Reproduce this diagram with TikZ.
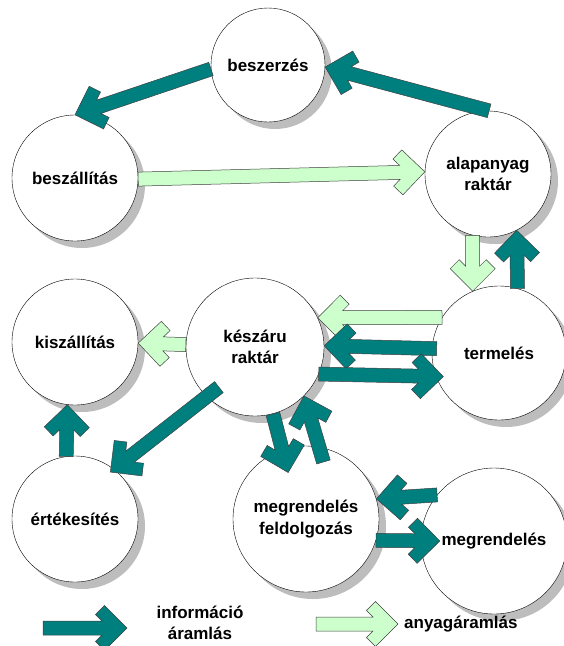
\documentclass[tikz,border=0pt]{standalone}
\usepackage{fontspec}
\setmainfont{Liberation Sans}
\usetikzlibrary{calc}
\definecolor{infoteal}{HTML}{007F7F}
\definecolor{goodsgreen}{HTML}{CCFFCC}
\definecolor{shadowgray}{HTML}{BDBDBD}
\tikzset{
    station/.style={draw, circle, fill=white, inner sep=0pt, align=center,
      font=\fontsize{17}{21.5}\selectfont\bfseries},
    infoarrow/.style={draw=black!75, fill=infoteal, line width=.5pt},
    goodsarrow/.style={draw=black!75, fill=goodsgreen, line width=.5pt},
    legend/.style={font=\fontsize{17}{21.5}\selectfont\bfseries, align=center, inner sep=0pt}}
% circle with its shadow: name, centre, diameter, text
\newcommand\station[4]{%
  \fill[shadowgray] (#2) ++(7pt,-7pt) circle (#3 pt/2);
  \node[station, minimum size=#3] (#1) at (#2) {#4};}
% thick arrow with an open chevron head, from #2 to #3
\newcommand\flowarrow[3][infoarrow]{%
  \path let \p1=(#2), \p2=(#3) in \pgfextra{%
    \pgfmathsetmacro\flang{atan2(\y2-\y1,\x2-\x1)}%
    \pgfmathsetmacro\fllen{veclen(\x2-\x1,\y2-\y1)}%
    \xdef\flang{\flang}\xdef\fllen{\fllen}};
  \draw[#1, shift={(#2)}, rotate=\flang]
    (0,7) -- (\fllen-25,7) -- (\fllen-31.5,13.5) -- (\fllen-22.5,22.5)
    -- (\fllen,0) -- (\fllen-22.5,-22.5) -- (\fllen-31.5,-13.5)
    -- (\fllen-25,-7) -- (0,-7) -- cycle;}

\begin{document}
\begin{tikzpicture}[x=1pt, y=-1pt]
\useasboundingbox (0,0) rectangle (564,646);

\station{besz}{268,65}{114}{beszerzés}
\station{beszall}{75,178}{126}{beszállítás}
\station{alap}{488,174}{126}{alapanyag\\raktár}
\station{kiszall}{75,342}{126}{kiszállítás}
\station{keszaru}{255,347}{138}{készáru\\raktár}
\station{termeles}{499,353}{134}{termelés}
\station{ertek}{75,519}{126}{értékesítés}
\station{feldolg}{306,519}{146}{megrendelés\\feldolgozás}
\station{megrend}{494,541}{146}{megrendelés}

\flowarrow{besz.184}{beszall.90}
\flowarrow{alap.89}{besz.358}
\flowarrow[goodsarrow]{beszall.359}{alap.178}
\flowarrow[goodsarrow]{alap.256}{termeles.113}
\flowarrow{termeles.74}{alap.297}
\flowarrow[goodsarrow]{termeles.148}{keszaru.25}
\flowarrow{$(termeles)!.93!(termeles.176)$}{keszaru.1}
\flowarrow{keszaru.337}{$(termeles)!.9!(termeles.203)$}
\flowarrow[goodsarrow]{keszaru.178}{kiszall.359}
\flowarrow{$(keszaru)!.78!(keszaru.228)$}{$(ertek)!.93!(ertek.53)$}
\flowarrow{ertek.98}{kiszall.263}
\flowarrow{keszaru.285}{$(feldolg)!.68!(feldolg.111)$}
\flowarrow{$(feldolg)!.815!(feldolg.73)$}{keszaru.315}
\flowarrow{megrend.141}{feldolg.16}
\flowarrow{feldolg.343}{$(megrend)!.74!(megrend.180)$}

\node[legend] (infolbl) at (200,623) {információ\\áramlás};
\node[legend, anchor=west] (goodslbl) at (404,624) {anyagáramlás};
\coordinate (li0) at (43,628);
\coordinate (li1) at (127,628);
\coordinate (lg0) at (316,624);
\coordinate (lg1) at (398,624);
\flowarrow{li0}{li1}
\flowarrow[goodsarrow]{lg0}{lg1}
\end{tikzpicture}
\end{document}
